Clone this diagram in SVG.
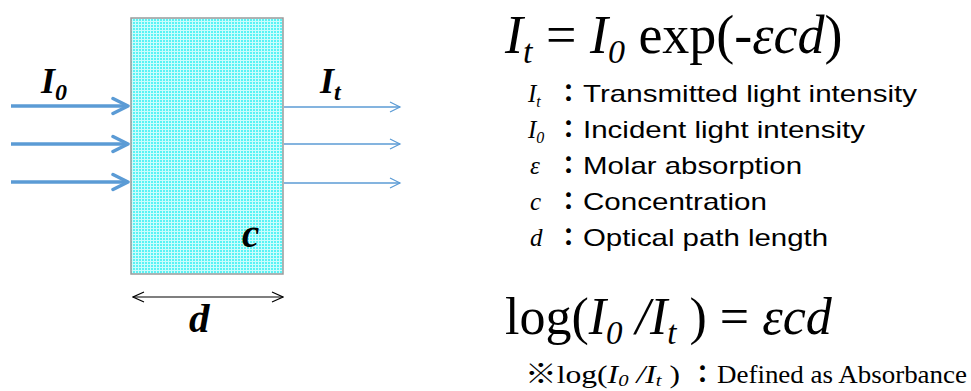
<svg xmlns="http://www.w3.org/2000/svg" width="971" height="391" viewBox="0 0 971 391">
<defs>
<pattern id="grid" width="3" height="3" patternUnits="userSpaceOnUse">
<rect width="3" height="3" fill="#5AF3F5"/>
<rect x="0" y="0" width="3" height="1" fill="#CCFDFD"/>
<rect x="0" y="0" width="1" height="3" fill="#CCFDFD"/>
</pattern>
<marker id="thick" markerUnits="userSpaceOnUse" viewBox="0 0 20 20" refX="17" refY="10" markerWidth="20" markerHeight="20" orient="auto">
<path d="M2,2.5 L17,10 L2,17.5" fill="none" stroke="#5B9BD5" stroke-width="3.5" stroke-linecap="round" stroke-linejoin="round"/>
</marker>
<marker id="thin" markerUnits="userSpaceOnUse" viewBox="0 0 14 14" refX="12" refY="7" markerWidth="14" markerHeight="14" orient="auto">
<path d="M2,2 L12,7 L2,12" fill="none" stroke="#5B9BD5" stroke-width="1.2"/>
</marker>
<marker id="dim" markerUnits="userSpaceOnUse" viewBox="0 0 14 14" refX="13" refY="7" markerWidth="14" markerHeight="14" orient="auto-start-reverse">
<path d="M2,2 L13,7 L2,12" fill="none" stroke="#000" stroke-width="1.2"/>
</marker>
</defs>
<style>
.bi{font-family:"Liberation Serif","Times New Roman",serif;font-weight:bold;font-style:italic;fill:#000}
.tm{font-family:"Liberation Serif","Noto Sans CJK JP",serif;fill:#000}
.it{font-style:italic}
.sans{font-family:"Liberation Sans",Arial,"Noto Sans CJK JP",sans-serif;fill:#000}
.in{stroke:#5B9BD5;stroke-width:3.5;fill:none}
.out{stroke:#5B9BD5;stroke-width:1.3;fill:none}
</style>
<g id="cell">
<rect x="131" y="18" width="152" height="256" fill="url(#grid)" stroke="#9A9A9A" stroke-width="1.5"/>
<text class="bi" x="242" y="247" font-size="39">c</text>
</g>
<g id="connectors">
<line class="in" x1="11" y1="106" x2="128" y2="106" marker-end="url(#thick)"/>
<line class="in" x1="11" y1="144" x2="128" y2="144" marker-end="url(#thick)"/>
<line class="in" x1="11" y1="182" x2="128" y2="182" marker-end="url(#thick)"/>
<line class="out" x1="284" y1="107" x2="400" y2="107" marker-end="url(#thin)"/>
<line class="out" x1="284" y1="144" x2="400" y2="144" marker-end="url(#thin)"/>
<line class="out" x1="284" y1="183" x2="400" y2="183" marker-end="url(#thin)"/>
<line x1="133" y1="297" x2="283" y2="297" stroke="#000" stroke-width="1.2" marker-start="url(#dim)" marker-end="url(#dim)"/>
</g>
<g id="label-I0">
<text class="bi" x="41" y="93" font-size="36">I<tspan font-size="24" dy="7">0</tspan></text>
</g>
<g id="label-It">
<text class="bi" x="320" y="93" font-size="36">I<tspan font-size="24" dy="7">t</tspan></text>
</g>
<g id="label-d">
<text class="bi" x="189" y="332" font-size="41">d</text>
</g>
<g id="formula1">
<text class="tm" x="505" y="53" font-size="54"><tspan class="it">I</tspan><tspan class="it" font-size="34" dy="10">t</tspan><tspan dy="-10"> = </tspan><tspan class="it">I</tspan><tspan class="it" font-size="34" dy="10">0</tspan><tspan dy="-10"> exp(-</tspan><tspan class="it">εcd</tspan>)</text>
</g>
<g id="legend">
<text class="tm it" x="528" y="102" font-size="25">I<tspan font-size="16" dy="5">t</tspan></text>
<text class="tm it" x="528" y="138" font-size="25">I<tspan font-size="16" dy="5">0</tspan></text>
<text class="tm it" x="530" y="174" font-size="25">ε</text>
<text class="tm it" x="530" y="210" font-size="25">c</text>
<text class="tm it" x="530" y="246" font-size="25">d</text>
<text class="sans" x="556" y="102" font-size="25" font-weight="bold">：</text>
<text class="sans" x="556" y="138" font-size="25" font-weight="bold">：</text>
<text class="sans" x="556" y="174" font-size="25" font-weight="bold">：</text>
<text class="sans" x="556" y="210" font-size="25" font-weight="bold">：</text>
<text class="sans" x="556" y="246" font-size="25" font-weight="bold">：</text>
<text class="sans" x="583" y="102" font-size="24" textLength="334" lengthAdjust="spacingAndGlyphs">Transmitted light intensity</text>
<text class="sans" x="583" y="138" font-size="24" textLength="282" lengthAdjust="spacingAndGlyphs">Incident light intensity</text>
<text class="sans" x="583" y="174" font-size="24" textLength="219" lengthAdjust="spacingAndGlyphs">Molar absorption</text>
<text class="sans" x="583" y="210" font-size="24" textLength="184" lengthAdjust="spacingAndGlyphs">Concentration</text>
<text class="sans" x="583" y="246" font-size="24" textLength="245" lengthAdjust="spacingAndGlyphs">Optical path length</text>
</g>
<g id="formula2">
<text class="tm" x="505" y="334" font-size="52">log(<tspan class="it">I</tspan><tspan class="it" font-size="33" dy="10">0</tspan><tspan class="it" dy="-10"> /I</tspan><tspan class="it" font-size="33" dy="10">t</tspan><tspan dy="-10"> ) = </tspan><tspan class="it">εcd</tspan></text>
</g>
<g id="footnote">
<text class="tm" x="525" y="383" font-size="26" textLength="155" lengthAdjust="spacingAndGlyphs">※log(<tspan class="it">I</tspan><tspan class="it" font-size="17" dy="3">0</tspan><tspan class="it" dy="-3"> /I</tspan><tspan class="it" font-size="17" dy="3">t</tspan><tspan dy="-3"> )</tspan></text>
<text class="tm" x="690" y="383" font-size="25" font-weight="bold">：</text>
<text class="tm" x="717" y="383" font-size="26" textLength="250" lengthAdjust="spacingAndGlyphs">Defined as Absorbance</text>
</g>
</svg>
